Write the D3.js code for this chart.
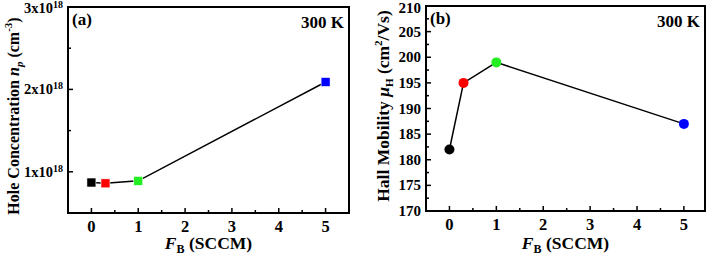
<!DOCTYPE html>
<html>
<head>
<meta charset="utf-8">
<script src="https://cdn.jsdelivr.net/npm/d3@7"></script>
<style>
  body { margin: 0; background: #fff; }
  svg { font-family: "Liberation Serif", "Times New Roman", serif; font-weight: bold; }
</style>
</head>
<body>
<div id="chart"></div>
<script>
const flowRates = [0, 0.3, 1, 5];
const pointColors = ["#000000", "#ff0000", "#22ee22", "#0000ff"];
const holeConc = [0.87e18, 0.86e18, 0.89e18, 2.09e18];
const mobility = [182, 195, 199, 187];
const xTicks = [0, 1, 2, 3, 4, 5];
const concTicks = [1e18, 2e18, 3e18];
const mobTicks = [170, 175, 180, 185, 190, 195, 200, 205, 210];

const width = 708, height = 256;

const svg = d3.select("#chart")
    .append("svg")
    .attr("width", width)
    .attr("height", height);

function drawPanel(opts) {
    const x = d3.scaleLinear().domain(opts.xDomain).range([opts.left, opts.right]);
    const y = d3.scaleLinear().domain(opts.yDomain).range([opts.bottom, opts.top]);
    const g = svg.append("g");

    // minor ticks (inward)
    const xMinor = d3.range(-0.5, 5.6, 0.5).filter(v => v > opts.xDomain[0] && v < opts.xDomain[1]);
    g.append("g").selectAll("line").data(xMinor).join("line")
        .attr("x1", d => x(d)).attr("x2", d => x(d))
        .attr("y1", opts.bottom).attr("y2", d => opts.bottom - (Number.isInteger(d) ? 5 : 3))
        .attr("stroke", "#000").attr("stroke-width", 1.5);

    g.append("g").selectAll("line").data(opts.yMinor).join("line")
        .attr("x1", opts.left).attr("x2", d => opts.left + (opts.yMajor.includes(d) ? 5 : 3))
        .attr("y1", d => y(d)).attr("y2", d => y(d))
        .attr("stroke", "#000").attr("stroke-width", 1.5);

    // frame
    g.append("rect")
        .attr("x", opts.left).attr("y", opts.top)
        .attr("width", opts.right - opts.left).attr("height", opts.bottom - opts.top)
        .attr("fill", "none").attr("stroke", "#000").attr("stroke-width", 2);

    // x tick labels
    g.append("g").selectAll("text").data(xTicks).join("text")
        .attr("x", d => x(d)).attr("y", opts.bottom + 19)
        .attr("text-anchor", "middle").attr("font-size", 16.5)
        .text(d => d);

    // y tick labels
    const yl = g.append("g").selectAll("text").data(opts.yMajor).join("text")
        .attr("x", opts.left - 5).attr("y", d => Math.max(y(d) + 5, 13))
        .attr("text-anchor", "end").attr("font-size", opts.yTickSize);
    opts.yLabel(yl);

    // x title
    const xt = g.append("text")
        .attr("x", (opts.left + opts.right) / 2).attr("y", Math.min(opts.bottom + 38, 249))
        .attr("text-anchor", "middle").attr("font-size", 17.5);
    xt.append("tspan").attr("font-style", "italic").text("F");
    xt.append("tspan").attr("font-size", 12).attr("dy", 3.5).text("B");
    xt.append("tspan").attr("dy", -3.5).text(" (SCCM)");

    // y title
    const yt = g.append("text")
        .attr("transform", `translate(${opts.yTitleX},${opts.yTitleY}) rotate(-90)`)
        .attr("text-anchor", "middle").attr("font-size", opts.yTitleSize);
    opts.yTitle(yt);

    // panel label and temperature
    g.append("text").attr("x", opts.left + 4).attr("y", opts.top + 18)
        .attr("font-size", 17).text(opts.tag);
    g.append("text").attr("x", opts.right - 5).attr("y", opts.top + 21)
        .attr("text-anchor", "end").attr("font-size", 17).text("300 K");

    // line + markers
    const pts = flowRates.map((f, i) => [f, opts.values[i]]);
    g.append("path")
        .datum(pts)
        .attr("d", d3.line().x(d => x(d[0])).y(d => y(d[1])))
        .attr("fill", "none").attr("stroke", "#000").attr("stroke-width", 1.5);

    if (opts.marker === "square") {
        g.append("g").selectAll("rect").data(pts).join("rect")
            .attr("x", d => x(d[0]) - 4.5).attr("y", d => y(d[1]) - 4.5)
            .attr("width", 9).attr("height", 9)
            .attr("fill", (d, i) => pointColors[i])
            .attr("stroke", "#fff").attr("stroke-width", 0.6);
    } else {
        g.append("g").selectAll("circle").data(pts).join("circle")
            .attr("cx", d => x(d[0])).attr("cy", d => y(d[1]))
            .attr("r", 5)
            .attr("fill", (d, i) => pointColors[i]);
    }
}

drawPanel({
    left: 68, right: 349, top: 7, bottom: 213,
    xDomain: [-0.5, 5.5], yDomain: [0.5e18, 3e18],
    yMajor: concTicks,
    yMinor: [1e18, 1.5e18, 2e18, 2.5e18],
    yTickSize: 14.5,
    values: holeConc, marker: "square", tag: "(a)",
    yTitleX: 19, yTitleY: 116, yTitleSize: 16,
    yLabel: sel => {
        sel.each(function (d) {
            const t = d3.select(this);
            t.append("tspan").text(`${d / 1e18}x10`);
            t.append("tspan").attr("font-size", 10).attr("dy", -5).text("18");
        });
    },
    yTitle: t => {
        t.append("tspan").text("Hole Concentration ");
        t.append("tspan").attr("font-style", "italic").text("n");
        t.append("tspan").attr("font-style", "italic").attr("font-size", 11).attr("dy", 4).text("p");
        t.append("tspan").attr("dy", -4).text(" (cm");
        t.append("tspan").attr("font-size", 11).attr("dy", -7).text("-3");
        t.append("tspan").attr("dy", 7).text(")");
    }
});

drawPanel({
    left: 426, right: 705, top: 6, bottom: 211,
    xDomain: [-0.5, 5.45], yDomain: [170, 210],
    yMajor: mobTicks,
    yMinor: d3.range(170, 210.1, 2.5),
    yTickSize: 15,
    values: mobility, marker: "circle", tag: "(b)",
    yTitleX: 389, yTitleY: 106, yTitleSize: 17.5,
    yLabel: sel => sel.text(d => d),
    yTitle: t => {
        t.append("tspan").text("Hall Mobility ");
        t.append("tspan").attr("font-style", "italic").text("\u03bc");
        t.append("tspan").attr("font-size", 11).attr("dy", 4).text("H");
        t.append("tspan").attr("dy", -4).text(" (cm");
        t.append("tspan").attr("font-size", 11).attr("dy", -7).text("2");
        t.append("tspan").attr("dy", 7).text("/Vs)");
    }
});
</script>
</body>
</html>
